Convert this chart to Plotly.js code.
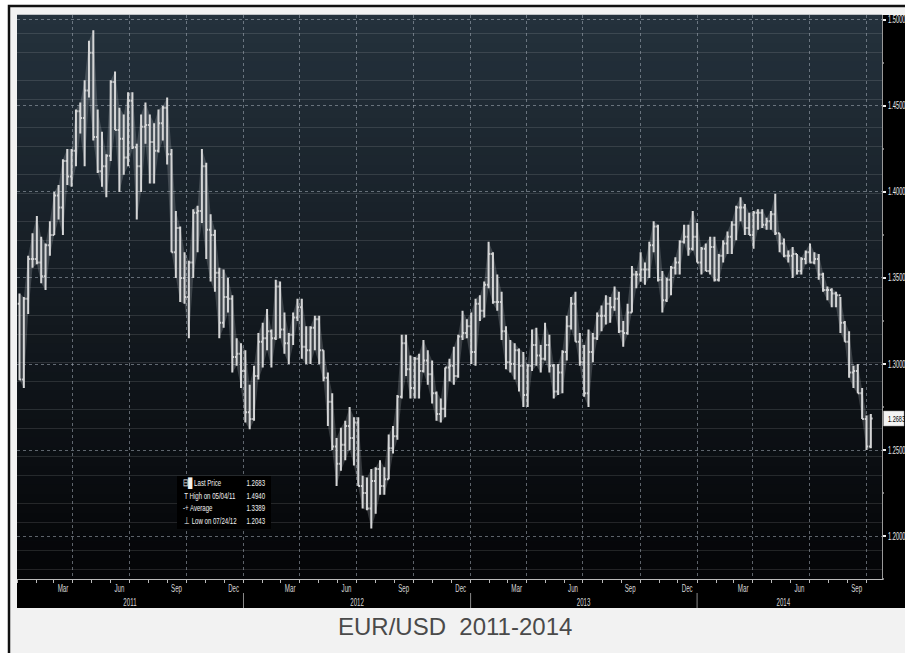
<!DOCTYPE html>
<html>
<head>
<meta charset="utf-8">
<script src="https://cdn.plot.ly/plotly-3.0.1.min.js"></script>
<style>html,body{margin:0;padding:0;background:#fff;}#chart{width:905px;height:653px;}</style>
</head>
<body>
<div id="chart"></div>
<script>
// ---------- DATA (weekly EUR/USD bars) ----------
const firstWeek = '2011-01-05';
const firstOpen = 1.3350;
const weekHigh = [
1.3410,1.3390,1.3630,1.3760,1.3860,1.3740,1.3700,1.3830,1.4000,1.4040,
1.4190,1.4250,1.4250,1.4480,1.4520,1.4650,1.4880,1.4940,1.4480,1.4350,
1.4220,1.4650,1.4700,1.4490,1.4450,1.4580,1.4580,1.4280,1.4450,1.4520,
1.4450,1.4400,1.4480,1.4500,1.4550,1.4250,1.3890,1.3800,1.3650,1.3600,
1.3900,1.3920,1.4250,1.4170,1.3870,1.3780,1.3560,1.3550,1.3500,1.3400,
1.3150,1.3120,
1.3080,1.2880,1.2990,1.3180,1.3240,1.3320,1.3200,1.3490,1.3480,1.3300,
1.3180,1.3300,1.3380,1.3380,1.3220,1.3220,1.3280,1.3280,1.3080,1.2950,
1.2830,1.2570,1.2630,1.2670,1.2750,1.2690,1.2690,1.2350,1.2340,1.2390,
1.2400,1.2440,1.2400,1.2590,1.2640,1.2820,1.3170,1.3170,1.3050,1.3040,
1.3060,1.3140,1.3080,1.3020,1.2840,1.2800,1.2980,1.3030,1.3100,1.3170,
1.3310,1.3260,1.3300,
1.3380,1.3400,1.3480,1.3710,1.3650,1.3520,1.3420,1.3220,1.3140,1.3120,
1.3090,1.3070,1.3000,1.3200,1.3210,1.3110,1.3240,1.3170,1.3000,1.3000,
1.3080,1.3280,1.3390,1.3420,1.3180,1.3110,1.3200,1.3180,1.3300,1.3340,
1.3400,1.3390,1.3450,1.3420,1.3250,1.3350,1.3570,1.3540,1.3650,1.3590,
1.3710,1.3830,1.3810,1.3540,1.3500,1.3570,1.3620,1.3720,1.3810,1.3810,
1.3890,
1.3820,1.3680,1.3700,1.3740,1.3740,1.3640,1.3720,1.3770,1.3830,1.3920,
1.3970,1.3930,1.3880,1.3890,1.3900,1.3900,1.3850,1.3890,1.3990,1.3760,
1.3730,1.3660,1.3680,1.3640,1.3620,1.3660,1.3700,1.3650,1.3640,1.3530,
1.3450,1.3440,1.3420,1.3390,1.3250,1.3190,1.2990,1.3000,1.2860,1.2700,
1.2710];
const weekLow = [
1.2905,1.2860,1.3290,1.3560,1.3580,1.3470,1.3430,1.3630,1.3750,1.3840,
1.3750,1.4040,1.4030,1.4150,1.4340,1.4150,1.4550,1.4300,1.4110,1.4030,
1.3970,1.4180,1.4360,1.4000,1.4100,1.4150,1.4250,1.3840,1.4000,1.4280,
1.4050,1.4050,1.4230,1.4300,1.4160,1.3650,1.3500,1.3360,1.3350,1.3150,
1.3500,1.3650,1.3820,1.3610,1.3480,1.3420,1.3150,1.3210,1.3300,1.2950,
1.2990,1.2860,
1.2660,1.2620,1.2670,1.2910,1.2980,1.3080,1.2980,1.3140,1.3150,1.3060,
1.3000,1.3110,1.3250,1.3030,1.3000,1.3000,1.3080,1.3000,1.2900,1.2640,
1.2500,1.2290,1.2380,1.2440,1.2500,1.2410,1.2290,1.2160,1.2150,1.2043,
1.2130,1.2240,1.2240,1.2330,1.2480,1.2560,1.2800,1.2930,1.2800,1.2800,
1.2800,1.2950,1.2880,1.2770,1.2670,1.2660,1.2690,1.2900,1.2880,1.2920,
1.3140,1.3150,1.3000,
1.2990,1.3250,1.3270,1.3440,1.3350,1.3310,1.3140,1.2970,1.2950,1.2910,
1.2840,1.2750,1.2750,1.2960,1.2990,1.2950,1.3020,1.2950,1.2800,1.2820,
1.2830,1.3020,1.3200,1.3130,1.2990,1.2810,1.2750,1.3010,1.3140,1.3190,
1.3230,1.3240,1.3310,1.3180,1.3100,1.3170,1.3300,1.3440,1.3480,1.3460,
1.3500,1.3650,1.3480,1.3300,1.3360,1.3400,1.3520,1.3520,1.3700,1.3630,
1.3660,
1.3590,1.3520,1.3540,1.3520,1.3480,1.3480,1.3590,1.3640,1.3640,1.3720,
1.3830,1.3750,1.3750,1.3670,1.3780,1.3790,1.3780,1.3780,1.3750,1.3650,
1.3620,1.3590,1.3500,1.3520,1.3520,1.3580,1.3590,1.3580,1.3490,1.3420,
1.3370,1.3330,1.3330,1.3180,1.3130,1.2920,1.2860,1.2830,1.2680,1.2500,
1.2510];
const weekClose = [
1.2910,1.3380,1.3610,1.3610,1.3590,1.3510,1.3690,1.3750,1.3980,1.3910,
1.4180,1.4090,1.4240,1.4470,1.4430,1.4590,1.4810,1.4320,1.4120,1.4150,
1.4210,1.4640,1.4360,1.4310,1.4200,1.4530,1.4260,1.4150,1.4380,1.4390,
1.4290,1.4240,1.4400,1.4490,1.4220,1.3650,1.3790,1.3500,1.3390,1.3590,
1.3880,1.3890,1.4150,1.3780,1.3750,1.3530,1.3240,1.3390,1.3380,1.3040,
1.3060,1.2960,
1.2720,1.2680,1.2930,1.3130,1.3150,1.3190,1.3150,1.3450,1.3200,1.3120,
1.3170,1.3270,1.3330,1.3100,1.3080,1.3210,1.3260,1.3080,1.2920,1.2780,
1.2520,1.2420,1.2530,1.2640,1.2570,1.2660,1.2290,1.2250,1.2160,1.2320,
1.2390,1.2290,1.2330,1.2510,1.2580,1.2810,1.3120,1.2970,1.2860,1.3030,
1.2960,1.3020,1.2940,1.2830,1.2710,1.2740,1.2980,1.2990,1.2930,1.3160,
1.3180,1.3220,1.3070,
1.3350,1.3310,1.3460,1.3640,1.3360,1.3360,1.3190,1.3010,1.3000,1.3080,
1.2990,1.2820,1.2990,1.3110,1.3050,1.3030,1.3110,1.2990,1.2840,1.2950,
1.3070,1.3220,1.3350,1.3130,1.3010,1.2830,1.3070,1.3150,1.3280,1.3280,
1.3350,1.3330,1.3380,1.3190,1.3180,1.3300,1.3520,1.3520,1.3550,1.3550,
1.3690,1.3800,1.3490,1.3370,1.3490,1.3560,1.3590,1.3710,1.3740,1.3670,
1.3740,
1.3590,1.3670,1.3540,1.3680,1.3490,1.3630,1.3700,1.3740,1.3810,1.3910,
1.3910,1.3790,1.3750,1.3880,1.3880,1.3810,1.3830,1.3870,1.3760,1.3700,
1.3630,1.3630,1.3640,1.3540,1.3610,1.3650,1.3590,1.3610,1.3520,1.3430,
1.3430,1.3410,1.3400,1.3240,1.3130,1.2950,1.2960,1.2830,1.2680,1.2520,
1.2683];

// axis labels
const xRange = ['2011-01-01', '2014-10-26'];
const gridDates = ['2011-04-01','2011-07-01','2011-10-01','2012-01-01','2012-04-01','2012-07-01','2012-10-01',
  '2013-01-01','2013-04-01','2013-07-01','2013-10-01','2014-01-01','2014-04-01','2014-07-01','2014-10-01'];
const monthLabelDates = ['2011-03-16','2011-06-15','2011-09-15','2011-12-16','2012-03-16','2012-06-15','2012-09-15','2012-12-16',
  '2013-03-16','2013-06-15','2013-09-15','2013-12-16','2014-03-16','2014-06-15','2014-09-15'];
const monthLabels = ['Mar','Jun','Sep','Dec','Mar','Jun','Sep','Dec','Mar','Jun','Sep','Dec','Mar','Jun','Sep'];
const yearLabelDates = ['2011-07-02','2012-07-02','2013-07-02','2014-05-20'];
const yearLabels = ['2011','2012','2013','2014'];
const yearBoundaries = ['2012-01-01','2013-01-01','2014-01-01'];
const yRange = [1.175, 1.5029];
const yTickVals = [1.20, 1.25, 1.30, 1.35, 1.40, 1.45, 1.50];

const legendLabels = ['Last Price', 'High on 05/04/11', 'Average', 'Low on 07/24/12'];
const legendIcons = ['\u229F\u2588', '\u2009T', '-+', '\u2009\u22A5'];
const legendValues = ['1.2683', '1.4940', '1.3389', '1.2043'];
const caption = 'EUR/USD\u00a0 2011-2014';

// ---------- BUILD ----------
(function () {
const weekDates = [];
const t0 = Date.parse(firstWeek + 'T00:00:00Z');
for (let i = 0; i < weekClose.length; i++) {
  weekDates.push(new Date(t0 + i * 7 * 86400000).toISOString().slice(0, 10));
}
const weekOpen = [firstOpen].concat(weekClose.slice(0, -1));
const lastPrice = weekClose[weekClose.length - 1];

const SMALL = '"Liberation Sans", Arial, sans-serif';
const barColor = '#d8d8d8';

const traces = [
  // faint range envelope (dense daily bars appear as a continuous band)
  {type: 'scatter', mode: 'lines', x: weekDates, y: weekLow, line: {width: 0, color: 'rgba(0,0,0,0)'},
   hoverinfo: 'skip', showlegend: false},
  {type: 'scatter', mode: 'lines', x: weekDates, y: weekHigh, line: {width: 0, color: 'rgba(0,0,0,0)'},
   fill: 'tonexty', fillcolor: 'rgba(200,205,210,0.22)', hoverinfo: 'skip', showlegend: false},
  {
  type: 'ohlc',
  x: weekDates, open: weekOpen, high: weekHigh, low: weekLow, close: weekClose,
  increasing: {line: {color: barColor, width: 2}},
  decreasing: {line: {color: barColor, width: 2}},
  tickwidth: 0.4,
  hoverinfo: 'skip', xaxis: 'x', yaxis: 'y'
}];

const L = 17, R = 882, T = 15, B = 579;
const px = v => (v - L) / (R - L);
const py = v => (B - v) / (B - T);

const shapes = [];
shapes.push({type: 'rect', xref: 'paper', yref: 'paper', x0: px(9), x1: px(960), y0: py(700), y1: py(6),
  fillcolor: '#f2f2f2', line: {color: '#111', width: 2.5}, layer: 'below'});
shapes.push({type: 'rect', xref: 'paper', yref: 'paper', x0: 0, x1: px(960), y0: py(608), y1: 0,
  fillcolor: '#000', line: {width: 0}, layer: 'below'});
shapes.push({type: 'rect', xref: 'paper', yref: 'paper', x0: 1, x1: px(960), y0: py(608), y1: 1,
  fillcolor: '#000', line: {width: 0}, layer: 'below'});
const cTop = [36, 49, 60], cBot = [4, 5, 7], NB = 60;
for (let i = 0; i < NB; i++) {
  const f = i / (NB - 1);
  const c = cTop.map((t, k) => Math.round(t + (cBot[k] - t) * f));
  shapes.push({type: 'rect', xref: 'paper', yref: 'paper', x0: 0, x1: 1,
    y0: 1 - (i + 1) / NB, y1: 1 - i / NB + 0.0005,
    fillcolor: 'rgb(' + c.join(',') + ')', line: {width: 0}, layer: 'below'});
}
yearBoundaries.forEach(d => shapes.push({type: 'line', xref: 'x', yref: 'paper', x0: d, x1: d,
  y0: py(608), y1: py(593), line: {color: '#8a8a8a', width: 1}, layer: 'above'}));
// legend box
shapes.push({type: 'rect', xref: 'paper', yref: 'paper', x0: px(177), x1: px(271), y0: py(529), y1: py(476),
  fillcolor: '#000', line: {width: 0}, layer: 'above'});
// last price tag background
shapes.push({type: 'rect', xref: 'paper', yref: 'y', ysizemode: 'pixel', yanchor: lastPrice,
  x0: px(883.5), x1: px(904), y0: -7.5, y1: 7.5,
  fillcolor: '#f4f4f4', line: {color: '#999', width: 0.5}, layer: 'above'});

const annotations = [];
const rowY = [482.7, 495.2, 507.7, 520.2];
legendLabels.forEach((s, i) => {
  annotations.push({xref: 'paper', yref: 'paper', x: px(181), y: py(rowY[i]), xanchor: 'left', yanchor: 'middle',
    showarrow: false, text: legendIcons[i] + ' ' + s, name: 'condL',
    font: {family: SMALL, size: 9.5, color: '#f2f2f2'}});
  annotations.push({xref: 'paper', yref: 'paper', x: px(267), y: py(rowY[i]), xanchor: 'right', yanchor: 'middle',
    showarrow: false, text: legendValues[i], name: 'condR',
    font: {family: SMALL, size: 9.5, color: '#f2f2f2'}});
});
annotations.push({xref: 'paper', yref: 'y', x: px(885.5), y: lastPrice, xanchor: 'left',
  yanchor: 'middle', showarrow: false, text: lastPrice.toFixed(4), name: 'condTag',
  font: {family: SMALL, size: 9.5, color: '#000'}});
annotations.push({xref: 'paper', yref: 'paper', x: px(455), y: py(626), xanchor: 'center', yanchor: 'middle',
  showarrow: false, text: caption, font: {family: SMALL, size: 24, color: '#4a4a4a'}});

const gridCol = 'rgba(165,175,185,0.55)';
const layout = {
  width: 905, height: 653,
  margin: {l: L, r: 905 - R, t: T, b: 653 - B, pad: 0},
  paper_bgcolor: '#ffffff', plot_bgcolor: '#0d1217',
  showlegend: false, dragmode: false,
  xaxis: {
    type: 'date', range: xRange, fixedrange: true,
    rangeslider: {visible: false},
    tickmode: 'array', tickvals: gridDates, showticklabels: false,
    showgrid: true, gridcolor: gridCol, griddash: 'dot', gridwidth: 1,
    ticks: 'outside', ticklen: 3, tickcolor: '#bbbbbb',
    showline: true, linecolor: '#bbbbbb', linewidth: 1, zeroline: false,
    minor: {tickmode: 'linear', tick0: '2011-01-01', dtick: 'M1', ticks: 'outside', ticklen: 3,
      tickcolor: '#bbbbbb', showgrid: false}
  },
  xaxis2: {
    type: 'date', range: xRange, overlaying: 'x', anchor: 'y', side: 'bottom', fixedrange: true,
    tickmode: 'array', tickvals: monthLabelDates, ticktext: monthLabels,
    showgrid: false, showline: false, zeroline: false, ticks: '', ticklabelstandoff: 1,
    tickfont: {family: SMALL, size: 10.5, color: '#d6d6d6'}
  },
  xaxis3: {
    type: 'date', range: xRange, overlaying: 'x', anchor: 'y', side: 'bottom', fixedrange: true,
    tickmode: 'array', tickvals: yearLabelDates, ticktext: yearLabels,
    showgrid: false, showline: false, zeroline: false, ticks: '', ticklabelstandoff: 15,
    tickfont: {family: SMALL, size: 10.5, color: '#d6d6d6'}
  },
  yaxis: {
    side: 'right', range: yRange, fixedrange: true,
    tickmode: 'array', tickvals: yTickVals, tickformat: '.4f',
    showgrid: true, gridcolor: gridCol, griddash: 'dot', gridwidth: 1,
    ticks: 'outside', ticklen: 3, tickwidth: 2, tickcolor: '#eeeeee',
    showline: true, linecolor: '#9a9a9a', linewidth: 1, zeroline: false,
    tickfont: {family: SMALL, size: 10, color: '#ececec'},
    minor: {tickmode: 'linear', tick0: 1.175, dtick: 0.025, ticks: 'outside', ticklen: 1, tickcolor: '#777', showgrid: false}
  },
  shapes: shapes,
  annotations: annotations
};

traces.push({type: 'scatter', x: [], y: [], xaxis: 'x2', yaxis: 'y', hoverinfo: 'skip', showlegend: false});
traces.push({type: 'scatter', x: [], y: [], xaxis: 'x3', yaxis: 'y', hoverinfo: 'skip', showlegend: false});

// narrow the small texts (Bloomberg-style condensed font) with SVG textLength
function condense(el, targetW, keep) {
  const b0 = el.getBBox();
  if (!b0.width) return;
  el.setAttribute('textLength', targetW.toFixed(2));
  el.setAttribute('lengthAdjust', 'spacingAndGlyphs');
  const b1 = el.getBBox();
  let dx = 0;
  if (keep === 'left') dx = b0.x - b1.x;
  else if (keep === 'right') dx = (b0.x + b0.width) - (b1.x + b1.width);
  else dx = (b0.x + b0.width / 2) - (b1.x + b1.width / 2);
  const x = parseFloat(el.getAttribute('x') || '0');
  el.setAttribute('x', (x + dx).toFixed(2));
}

Plotly.newPlot('chart', traces, layout, {displayModeBar: false, staticPlot: true}).then(gd => {
  gd.querySelectorAll('.ytick text').forEach(el => condense(el, 17.5, 'left'));
  gd.querySelectorAll('.x2tick text, .x3tick text').forEach(el => condense(el, el.getBBox().width * 0.58, 'center'));
  const anns = gd.querySelectorAll('.annotation');
  gd._fullLayout.annotations.forEach((a, i) => {
    const t = anns[i] && anns[i].querySelector('text.annotation-text');
    if (!t) return;
    if (a.name === 'condL') condense(t, t.getBBox().width * 0.64, 'left');
    if (a.name === 'condR') condense(t, t.getBBox().width * 0.64, 'right');
    if (a.name === 'condTag') condense(t, 17, 'left');
  });
});
})();
</script>
</body>
</html>
